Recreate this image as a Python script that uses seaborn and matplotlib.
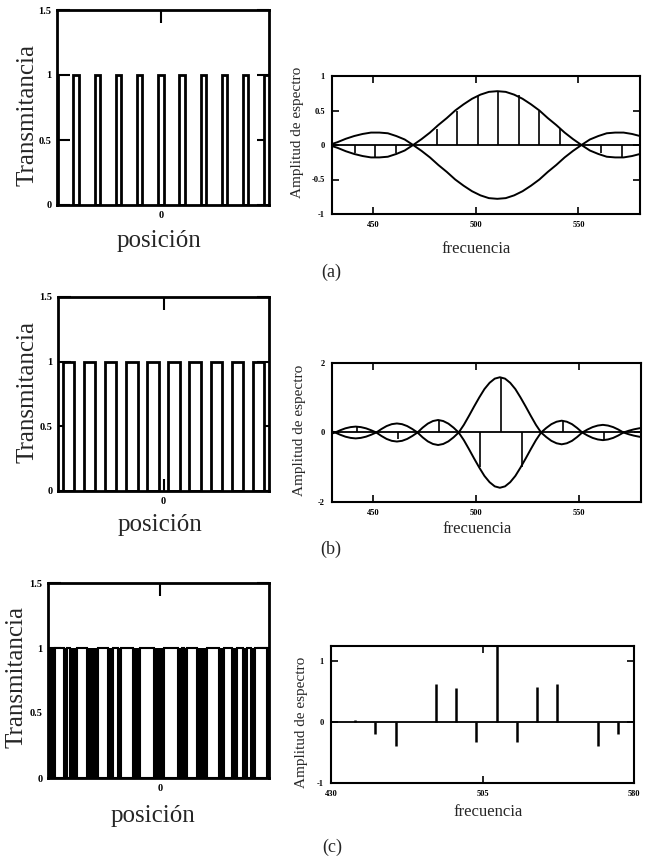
import numpy as np
import seaborn as sns
import matplotlib.pyplot as plt

# ---- grating profiles (position in periods) ----
pulses_a = [-5, -4, -3, -2, -1, 0, 1, 2, 3, 4, 5]
width_a = 0.25
pulses_b = [-4.5, -3.5, -2.5, -1.5, -0.5, 0.5, 1.5, 2.5, 3.5, 4.5]
width_b = 0.54
slit_start_c = [-4.75, -4.21, -3.76, -2.81, -2.13, -1.76, -0.90, 0.18, 1.00, 1.22, 2.13, 2.90, 3.48, 3.94, 4.30]
slit_end_c = [-4.34, -4.07, -3.30, -2.35, -1.90, -1.22, -0.27, 0.81, 1.09, 1.67, 2.67, 3.26, 3.76, 4.12, 4.84]

# ---- spectra ----
env_f_a = [430, 432.6, 436.7, 440.8, 444.9, 449, 453.1, 457.2, 461.3, 465.4, 469.5,
           473.6, 477.7, 481.8, 485.9, 490, 494.1, 498.2, 502.3, 506.4, 510.5,
           514.6, 518.7, 522.8, 526.9, 531, 535.1, 539.2, 543.3, 547.4, 551.5,
           555.6, 559.7, 563.8, 567.9, 572, 576.1, 580]
env_a = [0.015, 0.04, 0.09, 0.13, 0.16, 0.18, 0.18, 0.17, 0.13, 0.08, 0.0,
         0.085, 0.18, 0.29, 0.39, 0.50, 0.59, 0.67, 0.73, 0.77, 0.78,
         0.77, 0.73, 0.67, 0.59, 0.50, 0.39, 0.29, 0.18, 0.085, 0.0,
         0.08, 0.13, 0.17, 0.18, 0.18, 0.16, 0.13]
stem_f_a = [441, 451, 461, 481, 491, 501, 511, 521, 531, 541, 561, 571]
stem_a = [-0.11, -0.18, -0.11, 0.23, 0.50, 0.71, 0.78, 0.72, 0.50, 0.23, -0.11, -0.18]

env_f_b = [430, 431.5, 434, 436.5, 439, 441.5, 444, 446.5, 449, 451.5,
           454, 456.5, 459, 461.5, 464, 466.5, 469, 471.5,
           474, 476.5, 479, 481.5, 484, 486.5, 489, 491.5,
           494, 496.5, 499, 501.5, 504, 506.5, 509, 511.5,
           514, 516.5, 519, 521.5, 524, 526.5, 529, 531.5,
           534, 536.5, 539, 541.5, 544, 546.5, 549, 551.5,
           554, 556.5, 559, 561.5, 564, 566.5, 569, 571.5,
           574, 576.5, 579, 580]
env_b = [0.03, 0.0, 0.065, 0.12, 0.155, 0.17, 0.155, 0.12, 0.065, 0.0,
         0.10, 0.185, 0.24, 0.26, 0.24, 0.185, 0.10, 0.0,
         0.14, 0.255, 0.33, 0.36, 0.33, 0.255, 0.14, 0.0,
         0.22, 0.48, 0.75, 1.01, 1.25, 1.43, 1.55, 1.59,
         1.55, 1.43, 1.25, 1.01, 0.75, 0.48, 0.22, 0.0,
         0.13, 0.24, 0.31, 0.34, 0.31, 0.24, 0.13, 0.0,
         0.085, 0.155, 0.20, 0.22, 0.20, 0.155, 0.085, 0.0,
         0.05, 0.09, 0.12, 0.13]
stem_f_b = [442, 462, 482, 502, 512, 522, 542, 562]
stem_b = [0.16, -0.20, 0.36, -1.00, 1.59, -0.98, 0.34, -0.22]

stem_f_c = [442, 452, 462, 482, 492, 502, 512, 522, 532, 542, 562, 572]
stem_c = [0.04, -0.19, -0.39, 0.63, 0.56, -0.33, 1.30, -0.33, 0.57, 0.63, -0.39, -0.19]

sns.set_theme(style="ticks")
plt.rcParams["font.family"] = ["Liberation Serif", "DejaVu Serif"]

W, H = 653, 859
fig = plt.figure(figsize=(W / 100, H / 100), dpi=100)


def px_axes(x0, y0, x1, y1):
    ax = fig.add_axes([x0 / W, 1 - y1 / H, (x1 - x0) / W, (y1 - y0) / H])
    ax.box = (x0, y0, x1, y1)
    return ax


def to_ax(ax, x, y):
    x0, y0, x1, y1 = ax.box
    return (x - x0) / (x1 - x0), (y1 - y) / (y1 - y0)


def labels(ax, xl, xc, yl, yc, xsize, ysize):
    ax.set_xlabel(xl, fontsize=xsize, va="center")
    ax.xaxis.set_label_coords(*to_ax(ax, *xc))
    ax.set_ylabel(yl, fontsize=ysize, va="center")
    ax.yaxis.set_label_coords(*to_ax(ax, *yc))


def style_left(ax, xlim, bottom_tick=1.5):
    ax.set_xlim(*xlim)
    ax.set_ylim(0, 1.5)
    ax.set_yticks([0, 0.5, 1, 1.5], ["0", "0.5", "1", "1.5"], fontweight="bold", fontsize=7.5)
    ax.set_xticks([0], ["0"], fontweight="bold", fontsize=7.5)
    ax.tick_params(direction="in", top=True, right=True, length=9, width=1.5, pad=4, colors="black")
    for t in ax.xaxis.get_major_ticks():
        t.tick1line.set_markeredgewidth(bottom_tick)
    for s in ax.spines.values():
        s.set_linewidth(2)
        s.set_color("black")


def style_right(ax, yticks, ylabels, xticks):
    ax.set_xlim(430, 580)
    ax.set_yticks(yticks, ylabels, fontweight="bold", fontsize=6)
    ax.set_xticks(xticks, [str(t) for t in xticks], fontweight="bold", fontsize=6)
    ax.tick_params(direction="in", top=True, right=True, length=5, width=1.2, pad=5, colors="black")
    for s in ax.spines.values():
        s.set_linewidth(1.5)
        s.set_color("black")


# ---- (a) ----
ax = px_axes(57, 10, 269, 205)
ax.bar(pulses_a, 1.0, width=width_a, facecolor="white", edgecolor="black", linewidth=2)
style_left(ax, (-4.9, 5.1), bottom_tick=5)
labels(ax, "posición", (159, 241), "Transmitancia", (28, 115), 18, 18)

ax = px_axes(332, 76, 640, 214)
ax.axhline(0, color="black", lw=1.3)
sns.lineplot(x=env_f_a, y=env_a, ax=ax, color="black", lw=1.4)
sns.lineplot(x=env_f_a, y=[-v for v in env_a], ax=ax, color="black", lw=1.4)
ax.vlines(stem_f_a, 0, stem_a, color="black", lw=1.2)
ax.set_ylim(-1, 1)
style_right(ax, [-1, -0.5, 0, 0.5, 1], ["-1", "-0.5", "0", "0.5", "1"], [450, 500, 550])
labels(ax, "frecuencia", (476, 249), "Amplitud de espectro", (298, 132), 12, 11)

# ---- (b) ----
ax = px_axes(58, 297, 269, 491)
ax.bar(pulses_b, 1.0, width=width_b, facecolor="white", edgecolor="black", linewidth=2)
style_left(ax, (-5, 5))
labels(ax, "posición", (160, 525), "Transmitancia", (28, 392), 18, 18)

ax = px_axes(332, 363, 641, 502)
ax.axhline(0, color="black", lw=1.3)
sns.lineplot(x=env_f_b, y=env_b, ax=ax, color="black", lw=1.4)
sns.lineplot(x=env_f_b, y=[-v for v in env_b], ax=ax, color="black", lw=1.4)
ax.vlines(stem_f_b, 0, stem_b, color="black", lw=1.2)
ax.set_ylim(-2, 2)
style_right(ax, [-2, 0, 2], ["-2", "0", "2"], [450, 500, 550])
labels(ax, "frecuencia", (477, 529), "Amplitud de espectro", (300, 430), 12, 11)

# ---- (c) ----
ax = px_axes(48, 583, 269, 778)
xlim_c = (-5.07, 4.93)
dark_start = [xlim_c[0]] + slit_end_c
dark_end = slit_start_c + [xlim_c[1]]
ax.bar(dark_start, 1.0, width=np.subtract(dark_end, dark_start), align="edge",
       color="black", linewidth=0)
ax.bar(slit_start_c, 1.0, width=np.subtract(slit_end_c, slit_start_c), align="edge",
       facecolor="white", edgecolor="black", linewidth=1.5)
style_left(ax, xlim_c, bottom_tick=5)
labels(ax, "posición", (153, 816), "Transmitancia", (17, 677), 18, 18)

ax = px_axes(331, 646, 634, 783)
ax.axhline(0, color="black", lw=1.3)
ax.vlines(stem_f_c, 0, stem_c, color="black", lw=1.8)
ax.set_ylim(-1, 1.25)
style_right(ax, [-1, 0, 1], ["-1", "0", "1"], [430, 505, 580])
labels(ax, "frecuencia", (488, 812), "Amplitud de espectro", (301, 722), 12, 11)

for name, (x, y) in zip(["(a)", "(b)", "(c)"], [(331, 272), (331, 549), (332, 847)]):
    fig.text(x / W, 1 - y / H, name, fontsize=13, ha="center", va="center")

fig.savefig("out.png", dpi=100)
